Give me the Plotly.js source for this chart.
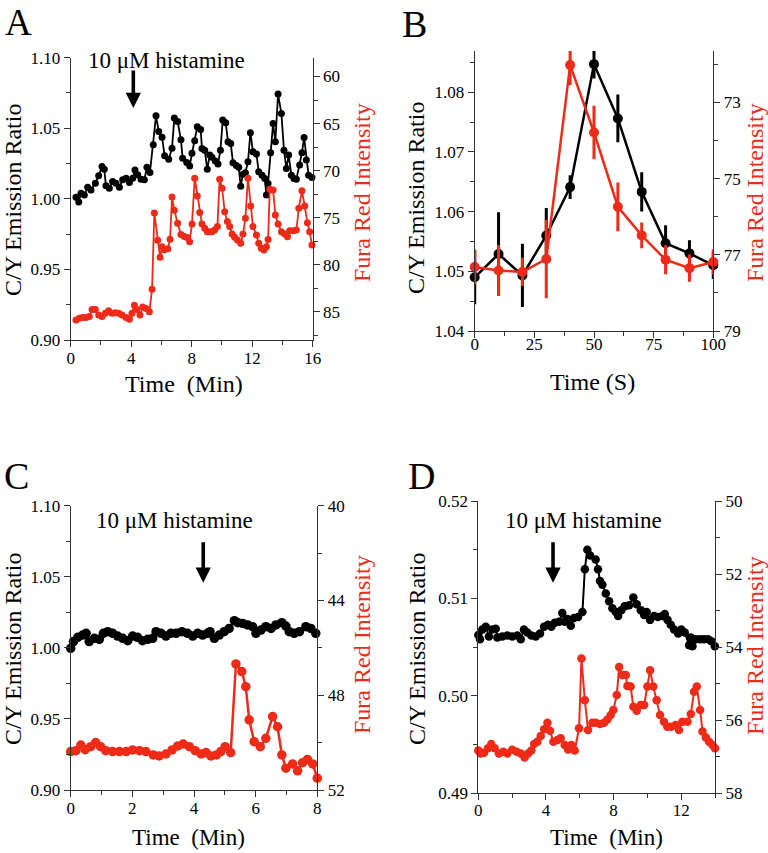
<!DOCTYPE html>
<html>
<head>
<meta charset="utf-8">
<script src="https://cdn.plot.ly/plotly-3.0.1.min.js"></script>
<style>html,body{margin:0;padding:0;background:#fff;}#chart{width:768px;height:853px;}</style>
</head>
<body>
<div id="chart"></div>
<script>
// ---------- Panel A : time (min), C/Y ratio (left), Fura Red intensity (right, reversed)
var aTimeBlack = [0.35,0.53,0.68,0.9,1.12,1.34,1.63,1.85,2.07,2.22,2.33,2.55,2.77,2.99,3.22,3.44,3.66,3.88,4.1,4.25,4.43,4.65,4.87,5.04,5.24,5.46,5.64,5.82,6.04,6.21,6.48,6.7,6.85,7.07,7.29,7.4,7.67,7.87,8.02,8.2,8.37,8.59,8.68,8.86,9.03,9.19,9.34,9.56,9.74,9.9,10.05,10.25,10.4,10.58,10.73,10.95,11.11,11.24,11.39,11.55,11.72,11.88,12.05,12.28,12.43,12.65,12.83,12.94,13.05,13.22,13.38,13.53,13.71,13.93,14.1,14.26,14.41,14.59,14.76,14.92,15.14,15.29,15.43,15.58,15.73,15.95];
var aRatio = [1.0011,0.9978,1.0039,1.0027,1.0083,1.0063,1.0111,1.0163,1.023,1.021,1.0092,1.0075,1.0123,1.0111,1.0083,1.0135,1.0146,1.0116,1.0146,1.0205,1.017,1.0139,1.0135,1.0224,1.0187,1.0383,1.0588,1.0477,1.0437,1.0305,1.0281,1.0359,1.0572,1.0548,1.0418,1.0288,1.0258,1.0233,1.0323,1.0412,1.0511,1.0492,1.0357,1.0345,1.0209,1.031,1.0294,1.0268,1.0247,1.0345,1.0558,1.0539,1.0405,1.0393,1.0256,1.0237,1.0223,1.009,1.0175,1.0185,1.0263,1.0469,1.0334,1.0317,1.0192,1.0168,1.0145,1.0027,1.0109,1.0326,1.0534,1.0405,1.0742,1.0605,1.0345,1.0215,1.031,1.0168,1.0145,1.0138,1.0239,1.0326,1.0435,1.0275,1.0168,1.0152];
var aTimeRed = [0.35,0.57,0.79,1.01,1.23,1.41,1.63,1.85,2.07,2.29,2.51,2.73,2.95,3.17,3.39,3.66,3.88,4.05,4.21,4.36,4.58,4.76,4.98,5.2,5.38,5.53,5.75,5.91,6.04,6.2,6.42,6.57,6.7,6.85,7.07,7.29,7.51,7.7,7.86,8.02,8.2,8.37,8.53,8.68,8.86,9.03,9.19,9.34,9.52,9.7,9.85,10.01,10.18,10.36,10.51,10.67,10.84,11.02,11.24,11.39,11.55,11.72,11.9,12.05,12.28,12.43,12.6,12.78,12.94,13.05,13.16,13.38,13.53,13.71,13.93,14.15,14.33,14.48,14.7,14.92,15.08,15.29,15.47,15.65,15.8,15.95];
var aFura = [85.88,85.7,85.6,85.6,85.5,84.75,84.75,85.35,85.5,85.17,84.9,85.17,85.1,85.17,85.35,85.6,85.8,85.17,84.3,84.75,85.35,84.5,84.64,85.0,82.6,74.5,77.4,79.2,78.1,78.4,78.3,77.3,72.8,74.2,75.6,76.8,77.0,77.1,77.55,75.67,70.81,72.69,74.46,75.67,76.13,76.49,76.49,76.49,76.31,75.95,70.92,71.88,74.36,75.42,75.95,76.74,77.09,77.38,77.73,76.74,75.07,70.81,73.76,75.95,76.84,77.73,78.26,78.44,78.09,77.31,71.99,72.06,74.72,75.67,76.49,76.74,77.02,76.38,76.38,76.31,74.0,72.13,73.76,75.53,76.49,77.91];

// ---------- Panel B : time (s), mean +/- error
var bTime = [0,10,20,30,40,50,60,70,80,90,100];
var bRatio = [1.049,1.0529,1.0493,1.056,1.0641,1.0847,1.0756,1.0633,1.0547,1.053,1.051];
var bRatioErr = [0.0045,0.007,0.0053,0.0046,0.002,0.0024,0.004,0.0033,0.003,0.0022,0.0023];
var bFura = [77.32,77.41,77.45,77.11,72.02,73.79,75.74,76.49,77.13,77.35,77.19];
var bFuraErr = [0.46,0.67,0.37,1.03,0.52,0.7,0.64,0.34,0.38,0.36,0.33];

// ---------- Panel C
var cTimeBlack = [0,0.09,0.23,0.39,0.5,0.6,0.77,0.93,1.06,1.2,1.36,1.52,1.69,1.85,2.01,2.17,2.33,2.5,2.66,2.77,2.93,3.09,3.25,3.42,3.61,3.79,3.96,4.12,4.28,4.44,4.52,4.66,4.82,4.98,5.14,5.31,5.42,5.58,5.74,5.9,6.01,6.17,6.33,6.5,6.66,6.85,6.98,7.09,7.25,7.42,7.63,7.79,7.95];
var cRatio = [0.9997,1.0044,1.0074,1.009,1.0102,1.0044,1.0067,1.006,1.0102,1.0114,1.0102,1.0083,1.0067,1.005,1.0083,1.0074,1.005,1.006,1.0067,1.0114,1.0102,1.0083,1.0102,1.0102,1.0114,1.0102,1.0083,1.0102,1.009,1.0102,1.0114,1.0067,1.009,1.0114,1.0137,1.0191,1.0177,1.0172,1.0161,1.0149,1.0102,1.0125,1.0149,1.0137,1.0161,1.0177,1.0153,1.0114,1.0102,1.0114,1.0149,1.0137,1.0102];
var cTimeRed = [0,0.17,0.33,0.47,0.65,0.81,0.97,1.14,1.36,1.58,1.8,2.01,2.23,2.44,2.68,2.87,3.09,3.29,3.47,3.65,3.85,4.04,4.23,4.39,4.55,4.73,4.87,5.01,5.19,5.36,5.55,5.68,5.79,5.95,6.15,6.33,6.55,6.71,6.85,6.98,7.2,7.36,7.52,7.68,7.85,8.0];
var cFura = [50.38,50.34,50.1,50.3,50.17,50.0,50.17,50.34,50.38,50.38,50.38,50.31,50.34,50.38,50.52,50.56,50.48,50.31,50.14,50.06,50.17,50.34,50.48,50.42,50.56,50.52,50.38,50.17,50.42,46.68,47.0,47.64,49.04,49.96,50.17,49.82,48.9,49.33,50.52,51.08,50.9,51.19,50.85,50.71,50.9,51.5];

// ---------- Panel D
var dTimeBlack = [0,0.1,0.24,0.44,0.63,0.83,1.03,1.13,1.42,1.72,2.01,2.31,2.51,2.7,2.9,3.14,3.4,3.65,3.89,4.12,4.32,4.52,4.78,4.97,5.11,5.27,5.47,5.66,5.9,6.16,6.3,6.45,6.61,6.94,7.08,7.2,7.34,7.54,7.74,7.93,8.13,8.27,8.46,8.66,8.92,9.17,9.37,9.61,9.81,9.96,10.16,10.4,10.63,10.89,11.03,11.19,11.38,11.58,11.82,12.01,12.21,12.47,12.57,12.67,12.86,13.12,13.35,13.59,13.79,13.99];
var dRatio = [0.50625,0.5058,0.5068,0.5071,0.5061,0.5068,0.5069,0.506,0.5061,0.5062,0.5061,0.5062,0.5058,0.5068,0.5065,0.5062,0.5061,0.5064,0.5071,0.5073,0.5071,0.5075,0.5076,0.5085,0.5076,0.5079,0.5072,0.508,0.5081,0.5086,0.513,0.515,0.5144,0.514,0.513,0.5118,0.5114,0.5105,0.5097,0.509,0.5086,0.5082,0.5088,0.5092,0.5093,0.5101,0.5094,0.5088,0.5083,0.5086,0.5078,0.5082,0.5081,0.5082,0.5084,0.5078,0.5073,0.5068,0.5064,0.5068,0.5065,0.5052,0.506,0.5051,0.5058,0.5058,0.5058,0.5058,0.5056,0.5051];
var dTimeRed = [0,0.14,0.34,0.57,0.77,0.97,1.22,1.48,1.72,2.01,2.27,2.51,2.74,2.94,3.14,3.3,3.49,3.69,3.89,4.09,4.24,4.44,4.68,4.87,5.11,5.31,5.5,5.7,5.96,6.1,6.3,6.49,6.75,6.94,7.2,7.44,7.64,7.83,7.99,8.19,8.33,8.52,8.72,8.82,9.01,9.17,9.37,9.61,9.81,10.0,10.16,10.35,10.55,10.75,10.98,11.18,11.41,11.67,11.87,12.07,12.37,12.57,12.76,12.92,13.12,13.26,13.46,13.65,13.85,14.0];
var dFura = [56.83,56.91,56.89,56.77,56.65,56.77,56.91,56.86,56.91,56.81,56.86,56.91,57.02,56.91,56.83,56.65,56.59,56.43,56.25,56.07,56.29,56.59,56.54,56.49,56.68,56.8,56.68,56.83,56.22,54.31,55.45,56.27,56.07,56.07,56.1,56.07,55.98,55.86,55.72,55.31,54.54,54.76,54.76,55.06,55.08,55.63,55.74,55.58,55.58,55.08,54.63,55.08,55.45,55.86,56.04,56.18,56.18,56.13,56.27,56.04,56.04,55.83,55.22,55.08,55.72,56.31,56.47,56.59,56.68,56.77];

// ---------- labels
var panelLetters = ['A','B','C','D'];
var ratioTitle = 'C/Y Emission Ratio';
var furaTitle = 'Fura Red Intensity';
var timeMinTitle = 'Time\u00a0 (Min)';
var timeSecTitle = 'Time (S)';
var stimulusLabel = '10 \u03bcM histamine';

// ---------- styling
var FONT = 'Liberation Serif';
var BLACK = '#000000';
var RED = '#ee2a18';
var AXC = '#333333';
var W = 768, H = 853;
function px(x){ return x / W; }
function py(y){ return 1 - y / H; }

function line(x, y, xa, ya, color, msize, lw){
  return {x:x, y:y, xaxis:xa, yaxis:ya, type:'scatter', mode:'lines+markers',
    line:{color:color, width:lw}, marker:{color:color, size:msize}, cliponaxis:false, hoverinfo:'skip'};
}

var traces = [
  line(aTimeBlack, aRatio, 'x', 'y', BLACK, 7, 1.8),
  line(aTimeRed, aFura, 'x', 'y2', RED, 7, 1.8),
  line(cTimeBlack, cRatio, 'x3', 'y5', BLACK, 9.5, 2.5),
  line(cTimeRed, cFura, 'x3', 'y6', RED, 9.5, 2.5),
  line(dTimeBlack, dRatio, 'x4', 'y7', BLACK, 8.5, 2),
  line(dTimeRed, dFura, 'x4', 'y8', RED, 8.5, 2)
];
var tb = line(bTime, bRatio, 'x2', 'y3', BLACK, 10, 2.5);
tb.error_y = {type:'data', array:bRatioErr, visible:true, color:BLACK, thickness:3, width:0};
var tr = line(bTime, bFura, 'x2', 'y4', RED, 10, 2.5);
tr.error_y = {type:'data', array:bFuraErr, visible:true, color:RED, thickness:3, width:0};
traces.splice(2, 0, tb, tr);

function xax(d0, d1, range, dtick, mdtick, anchor, standoff){
  return {domain:[px(d0), px(d1)], range:range, anchor:anchor, dtick:dtick, tick0:0,
    showline:true, linecolor:AXC, linewidth:1, ticks:'outside', ticklen:6, tickcolor:AXC,
    showgrid:false, zeroline:false, ticklabelstandoff:standoff,
    tickfont:{family:FONT, size:17, color:BLACK}, fixedrange:true,
    minor:{ticks:'outside', ticklen:4, dtick:mdtick, tickcolor:AXC, showgrid:false}};
}
function yax(top, bottom, range, dtick, tick0, mdtick, anchor, side, overlay, fmt){
  var o = {domain:[py(bottom), py(top)], range:range, anchor:anchor, side:side, dtick:dtick, tick0:tick0,
    showline:true, linecolor:AXC, linewidth:1, ticks:'outside', ticklen:6, tickcolor:AXC,
    showgrid:false, zeroline:false, tickformat:fmt,
    tickfont:{family:FONT, size:17, color:BLACK}, fixedrange:true,
    minor:{ticks:'outside', ticklen:4, dtick:mdtick, tickcolor:AXC, showgrid:false}};
  if (overlay) o.overlaying = overlay;
  return o;
}

var layout = {
  width:W, height:H, margin:{l:0, r:0, t:0, b:0}, showlegend:false,
  paper_bgcolor:'#ffffff', plot_bgcolor:'rgba(0,0,0,0)', font:{family:FONT, color:BLACK},
  xaxis:  xax(70.7, 312.7, [0,16], 4, 2, 'y', -3),
  yaxis:  yax(57.7, 340, [0.90,1.10], 0.05, 0, 0.025, 'x', 'left', null, '.2f'),
  yaxis2: yax(57.7, 340, [88,58], 5, 0, 2.5, 'x', 'right', 'y', ''),
  xaxis2: xax(474.7, 713.3, [0,100], 25, 12.5, 'y3', -8),
  yaxis3: yax(51, 331, [1.04,1.0869], 0.01, 0, 0.005, 'x2', 'left', null, '.2f'),
  yaxis4: yax(51, 331, [79,71.65], 2, 1, 1, 'x2', 'right', 'y3', ''),
  xaxis3: xax(70.7, 317.3, [0,8], 2, 1, 'y5', -3),
  yaxis5: yax(505.7, 790, [0.90,1.10], 0.05, 0, 0.025, 'x3', 'left', null, '.2f'),
  yaxis6: yax(505.7, 790, [52,40], 4, 0, 2, 'x3', 'right', 'y5', ''),
  xaxis4: xax(478.3, 715, [0,14], 4, 2, 'y7', -5),
  yaxis7: yax(501, 793.3, [0.49,0.52], 0.01, 0, 0.005, 'x4', 'left', null, '.2f'),
  yaxis8: yax(501, 793.3, [58,50], 2, 0, 1, 'x4', 'right', 'y7', ''),
  annotations: []
};

function ann(text, x, y, size, color, angle, xanchor){
  return {text:text, x:px(x), y:py(y), xref:'paper', yref:'paper', showarrow:false,
    xanchor:xanchor || 'center', yanchor:'middle', textangle:angle || 0,
    font:{family:FONT, size:size, color:color}};
}
var A = layout.annotations;
// panel letters
A.push(ann(panelLetters[0], 3, 22, 37, BLACK, 0, 'left'));
A.push(ann(panelLetters[1], 400, 24, 38, BLACK, 0, 'left'));
A.push(ann(panelLetters[2], 2, 476, 38, BLACK, 0, 'left'));
A.push(ann(panelLetters[3], 406, 476, 38, BLACK, 0, 'left'));
// left titles
A.push(ann(ratioTitle, 13, 200, 24, BLACK, -90));
A.push(ann(ratioTitle, 416, 198, 24, BLACK, -90));
A.push(ann(ratioTitle, 13, 649, 24, BLACK, -90));
A.push(ann(ratioTitle, 417, 649, 24, BLACK, -90));
// right titles
A.push(ann(furaTitle, 362, 193, 24, RED, -90));
A.push(ann(furaTitle, 755, 193, 24, RED, -90));
A.push(ann(furaTitle, 362, 645, 24, RED, -90));
A.push(ann(furaTitle, 755, 646, 24, RED, -90));
// x titles
A.push(ann(timeMinTitle, 184, 384, 24, BLACK, 0));
A.push(ann(timeSecTitle, 592, 382, 24, BLACK, 0));
A.push(ann(timeMinTitle, 188, 837, 23, BLACK, 0));
A.push(ann(timeMinTitle, 606, 837, 23, BLACK, 0));
// stimulus labels
A.push(ann(stimulusLabel, 166, 61, 23, BLACK, 0));
A.push(ann(stimulusLabel, 174, 520, 23, BLACK, 0));
A.push(ann(stimulusLabel, 583, 520, 23, BLACK, 0));
// stimulus arrows (anchored on the data axes)
function arrow(xr, yr, x, y, ay){
  return {text:'', x:x, y:y, xref:xr, yref:yr, showarrow:true, ax:0, ay:ay,
    font:{size:1}, arrowhead:2, arrowsize:0.85, arrowwidth:3.6, arrowcolor:BLACK, standoff:0};
}
A.push(arrow('x', 'y', 4.14, 1.0644, -39));
A.push(arrow('x3', 'y5', 4.3, 1.0458, -42));
A.push(arrow('x4', 'y7', 4.42, 0.5116, -42));

Plotly.newPlot('chart', traces, layout, {staticPlot:true, displayModeBar:false});
</script>
</body>
</html>
